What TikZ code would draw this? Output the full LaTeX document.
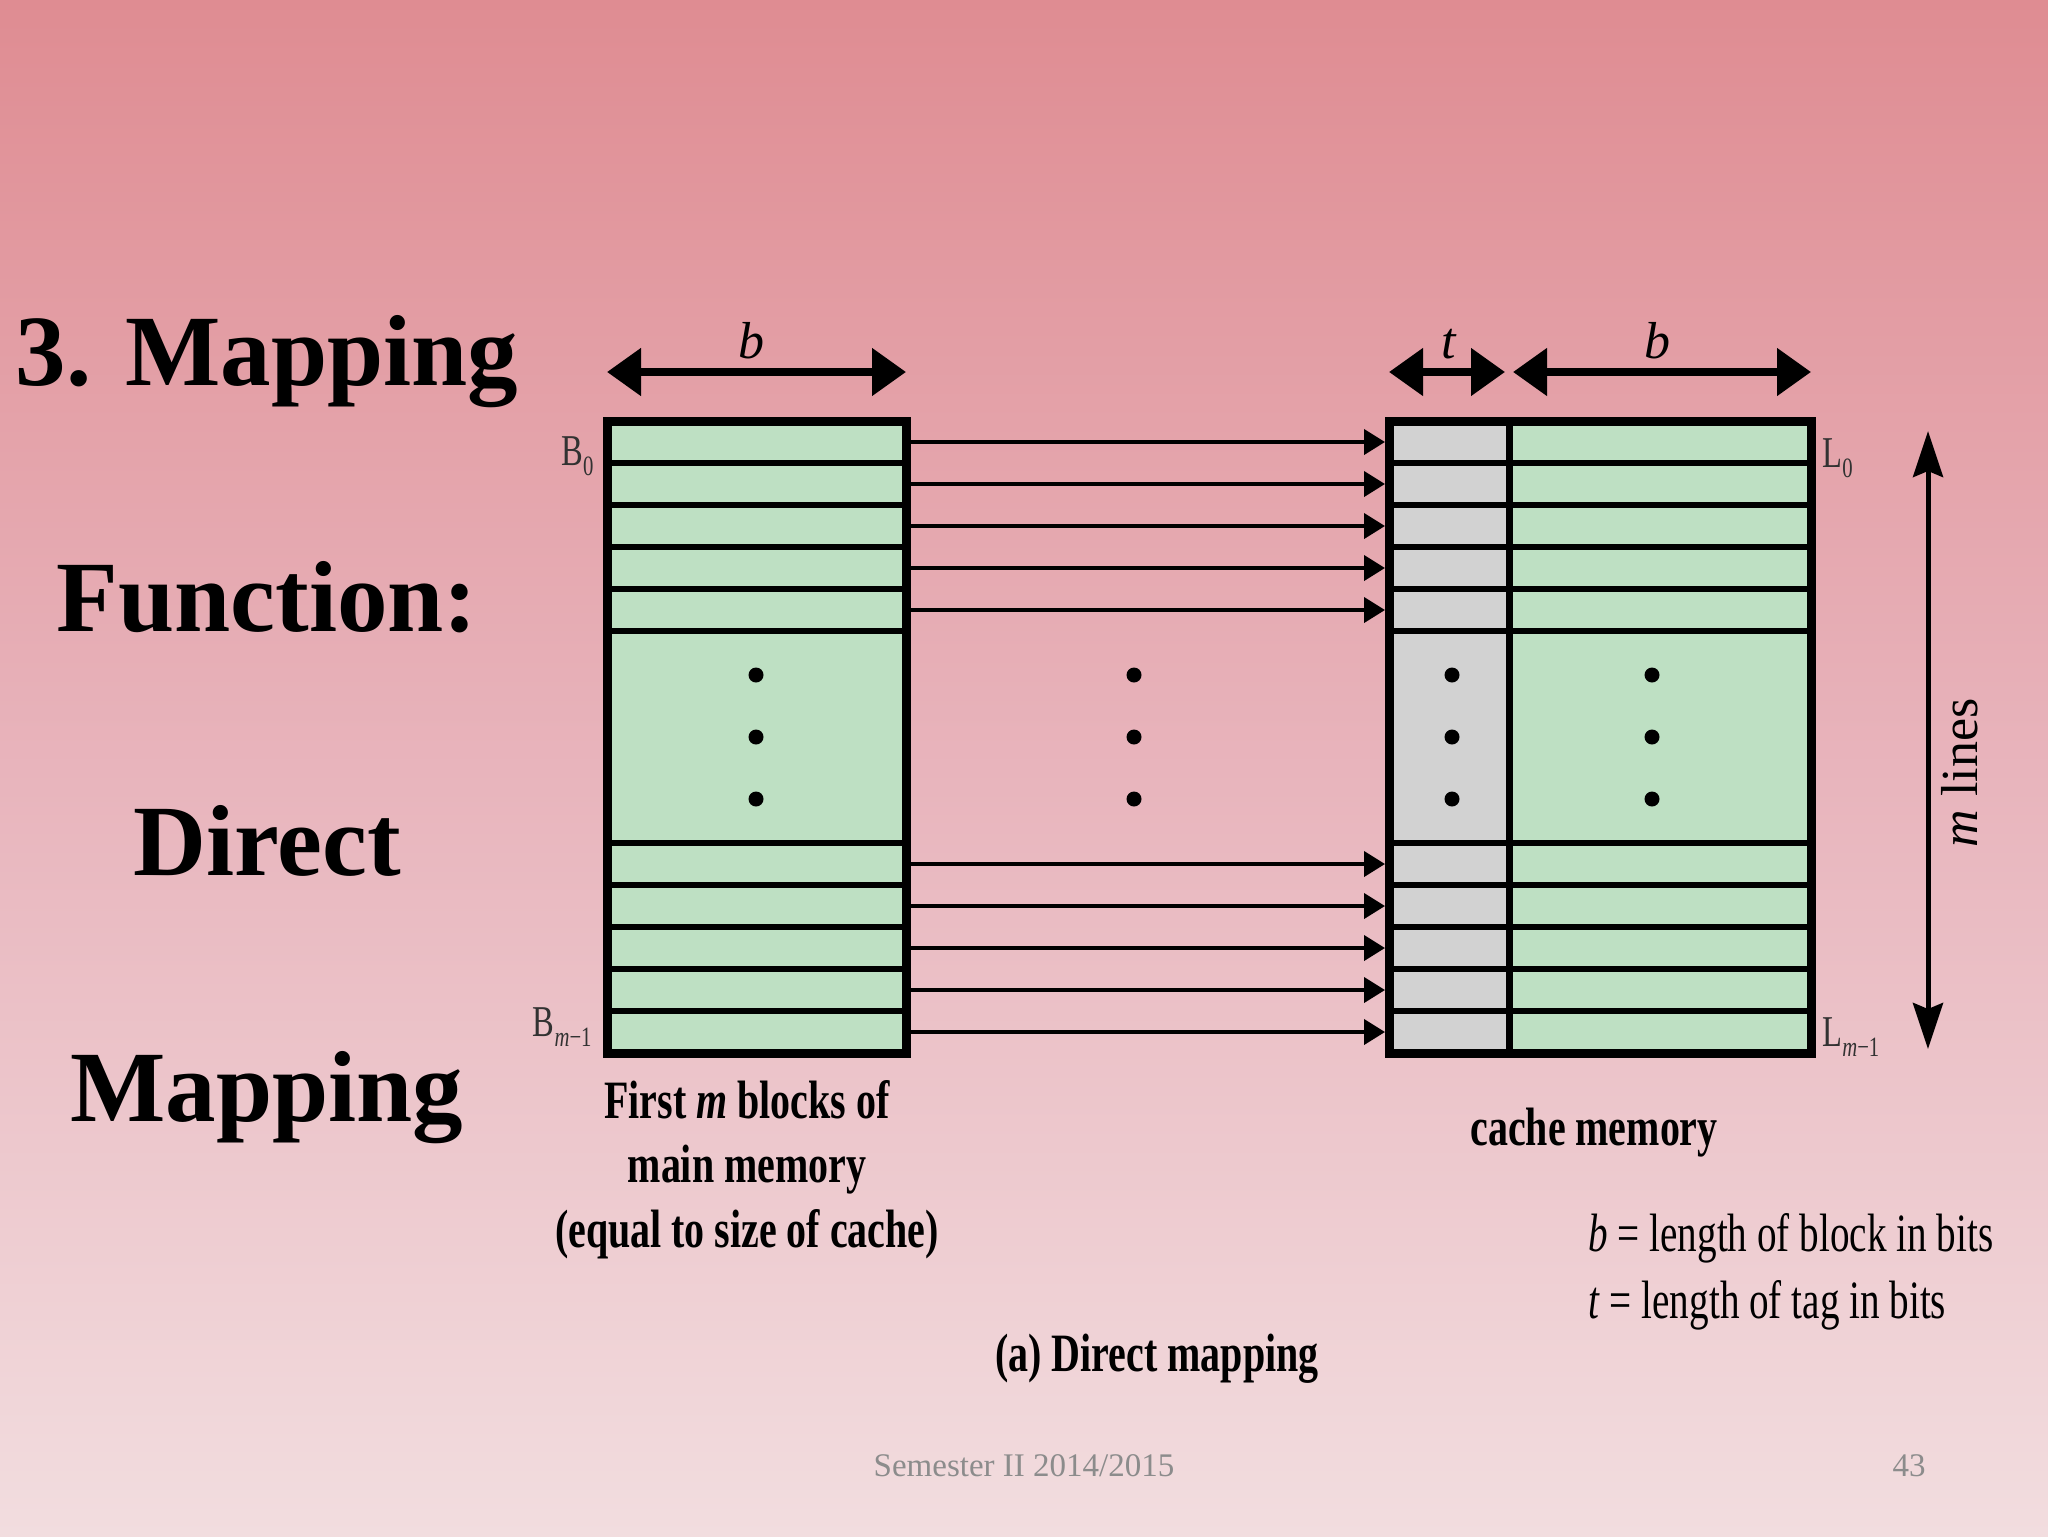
\documentclass[tikz,border=0pt]{standalone}
\usepackage{fontspec}
\setmainfont{Liberation Serif}
\newfontfamily\condfont[FakeStretch=0.74]{Liberation Serif}
\newfontfamily\legfont[FakeStretch=0.725]{Liberation Serif}
\usetikzlibrary{arrows.meta}
\definecolor{bgtop}{RGB}{223,140,146}
\definecolor{bgmid}{RGB}{232,180,188}
\definecolor{bgbot}{RGB}{242,221,223}
\definecolor{memgreen}{RGB}{190,224,195}
\definecolor{taggray}{RGB}{210,210,210}
\definecolor{footgray}{RGB}{140,140,140}
\definecolor{lblgray}{RGB}{50,50,50}
\tikzset{
  memrow/.style={draw=black, fill=memgreen, line width=3pt, inner sep=0pt, outer sep=0pt, minimum height=21pt},
  tagrow/.style={memrow, fill=taggray, minimum width=60pt},
  outerbox/.style={draw=black, line width=4.5pt},
  maparrow/.style={draw=black, line width=2pt, -{Triangle[length=10.5pt,width=12.5pt]}, shorten >=2pt},
  dimarrow/.style={draw=black, line width=4pt, {Triangle[length=17pt,width=23pt]}-{Triangle[length=17pt,width=23pt]}},
  vertarrow/.style={draw=black, line width=2.5pt, {Stealth[length=23pt,width=15pt,inset=3pt]}-{Stealth[length=23pt,width=15pt,inset=3pt]}},
  titletext/.style={font=\fontsize{50.5}{60}\selectfont\bfseries, anchor=base, inner sep=0pt},
  captext/.style={font=\condfont\fontsize{27}{32}\selectfont\bfseries, anchor=base, inner sep=0pt},
  legendtext/.style={font=\legfont\fontsize{27}{32}\selectfont, anchor=base west, inner sep=0pt},
  dimlabel/.style={font=\fontsize{26}{30}\selectfont\itshape, anchor=base, inner sep=0pt},
  rowlabel/.style={font=\condfont\fontsize{22}{24}\selectfont, text=lblgray, inner sep=0pt},
  footer/.style={font=\fontsize{16.5}{20}\selectfont, text=footgray, anchor=base, inner sep=0pt},
  dotmark/.style={circle, fill=black, inner sep=0pt, minimum size=7.5pt}
}
\newcommand{\subl}[1]{{\fontsize{14}{14}\selectfont\raisebox{-5pt}{#1}}}
\begin{document}
\begin{tikzpicture}[x=0.5pt,y=-0.5pt]
  % background
  \shade[top color=bgtop, bottom color=bgbot, middle color=bgmid] (0,0) rectangle (2048,1536);
  \useasboundingbox (0,0) rectangle (2048,1536);

  % title
  \node[titletext] (t1) at (267,385) {3. Mapping};
  \node[titletext] (t2) at (267,631) {Function:};
  \node[titletext] (t3) at (267,875) {Direct};
  \node[titletext] (t4) at (267,1121) {Mapping};

  % rows of main memory and cache
  \foreach \i/\yc in {1/442,2/484,3/526,4/568,5/610,6/864,7/906,8/948,9/990,10/1032} {
    \node[memrow, minimum width=149.5pt] (mm\i) at (756.5,\yc) {};
    \node[tagrow] (tg\i) at (1449,\yc) {};
    \node[memrow, minimum width=151pt] (dt\i) at (1660,\yc) {};
  }
  \node[memrow, minimum width=149.5pt, minimum height=106pt] (mmmid) at (756.5,737) {};
  \node[tagrow, minimum height=106pt] (tgmid) at (1449,737) {};
  \node[memrow, minimum width=151pt, minimum height=106pt] (dtmid) at (1660,737) {};

  % outer borders
  \draw[outerbox] (mm1.north west) rectangle (mm10.south east);
  \draw[outerbox] (tg1.north west) rectangle (dt10.south east);
  \draw[draw=black, line width=3.5pt] (tg1.north east) -- (tg10.south east);

  % mapping arrows
  \foreach \i in {1,...,10} {
    \draw[maparrow] (mm\i.east) -- (tg\i.west);
  }

  % dots
  \foreach \xx in {756,1134,1452,1652} {
    \foreach \yy in {675,737,799} {
      \node[dotmark] at (\xx,\yy) {};
    }
  }

  % dimension arrows
  \coordinate (dimy) at (0,372);
  \draw[dimarrow] (mm1.north west |- dimy) -- (mm1.north east |- dimy);
  \draw[dimarrow, shorten >=2pt] (tg1.north west |- dimy) -- (tg1.north east |- dimy);
  \draw[dimarrow, shorten <=2pt] (dt1.north west |- dimy) -- (dt1.north east |- dimy);
  \node[dimlabel] (lb1) at (751,358) {b};
  \node[dimlabel] (lt) at (1449,358) {t};
  \node[dimlabel] (lb2) at (1657,358) {b};

  % m lines arrow
  \coordinate (mtop) at (1928,431);
  \coordinate (mbot) at (1928,1049);
  \draw[vertarrow] (mtop) -- (mbot);
  \node[font=\fontsize{26}{30}\selectfont, rotate=90, inner sep=0pt] (mlines) at (1960,773) {\textit{m} lines};

  % row labels
  \node[rowlabel, anchor=base east] (B0) at (594,465) {B\subl{0}};
  \node[rowlabel, anchor=base east] (Bm) at (592,1036) {B\subl{\textit{m}−1}};
  \node[rowlabel, anchor=base west] (L0) at (1822,467) {L\subl{0}};
  \node[rowlabel, anchor=base west] (Lm) at (1822,1046) {L\subl{\textit{m}−1}};

  % captions
  \node[captext] (capA) at (747,1118) {First \textit{m} blocks of};
  \node[captext] (capB) at (747,1182) {main memory};
  \node[captext] (capC) at (747,1247) {(equal to size of cache)};
  \node[captext] (capD) at (1594,1145) {cache memory};
  \node[captext] (capE) at (1157,1371) {(a) Direct mapping};

  % legend
  \node[legendtext] (legb) at (1588,1251) {\textit{b} = length of block in bits};
  \node[legendtext] (legt) at (1588,1318) {\textit{t} = length of tag in bits};

  % footer
  \node[footer] (foot) at (1024,1476) {Semester II 2014/2015};
  \node[footer] (page) at (1909,1476) {43};
\end{tikzpicture}
\end{document}
